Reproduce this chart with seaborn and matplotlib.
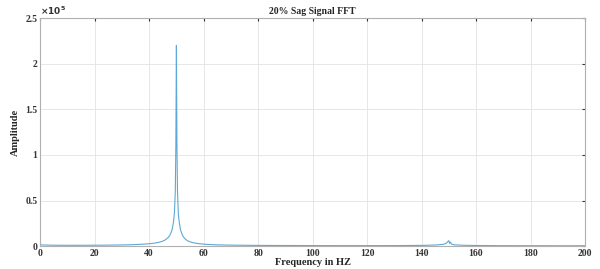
import matplotlib
matplotlib.use("Agg")
import matplotlib.pyplot as plt
import seaborn as sns
from matplotlib.ticker import FuncFormatter

# FFT of a 20% sag signal
freq = [0, 2, 5, 10, 15, 20, 25, 30, 35, 38, 40, 42, 44, 45, 46, 47, 47.5, 48,
        48.5, 49, 49.3, 49.6, 49.8, 50, 50.2, 50.4, 50.7, 51, 51.5, 52, 52.5,
        53, 54, 55, 56, 58, 60, 62, 65, 70, 80, 90, 100, 110, 120, 130, 140,
        145, 148, 149, 149.5, 150, 150.3, 150.6, 151, 152, 155, 160, 170, 180,
        190, 200]
amp = [1500, 1200, 1000, 900, 900, 1000, 1100, 1300, 1700, 2200, 2600, 3300,
       4500, 5500, 7000, 9500, 11500, 14500, 19000, 28000, 38000, 60000,
       110000, 220000, 110000, 60000, 36000, 27000, 18000, 13500, 10500, 8500,
       6000, 4700, 3800, 2800, 2200, 1800, 1400, 1100, 800, 700, 600, 550, 550,
       600, 800, 1200, 2000, 3000, 4500, 6000, 3000, 4500, 2200, 1400, 1000,
       700, 500, 450, 400, 400]

x_ticks = [0, 20, 40, 60, 80, 100, 120, 140, 160, 180, 200]
y_ticks = [0, 0.5e5, 1e5, 1.5e5, 2e5, 2.5e5]

sns.set_style("white")
plt.rcParams['font.family'] = ['Liberation Serif', 'DejaVu Serif']
plt.rcParams['font.weight'] = 'bold'

fig = plt.figure(figsize=(6, 2.69), dpi=100)
ax = fig.add_axes([0.067, 0.085, 0.908, 0.848])

sns.lineplot(x=freq, y=amp, ax=ax, color='#5fa8d3', linewidth=0.8)

ax.set_xlim(0, 200)
ax.set_ylim(0, 2.5e5)
ax.set_xticks(x_ticks)
ax.set_yticks(y_ticks)
ax.yaxis.set_major_formatter(FuncFormatter(lambda v, p: '%g' % (v / 1e5)))
ax.grid(True, color='#e3e3e3', linewidth=0.6)
ax.tick_params(labelsize=7, length=2, pad=2, direction='in', colors='#333333',
               top=True, right=True)
for lab in ax.get_xticklabels() + ax.get_yticklabels():
    lab.set_fontweight('bold')
for s in ax.spines.values():
    s.set_color('#b0b0b0')
    s.set_linewidth(0.8)

ax.text(0.0, 1.005, r'$\times\mathbf{10^5}$', transform=ax.transAxes,
        fontsize=6.5, ha='left', va='bottom', color='#333333')
ax.set_title('20% Sag Signal FFT', fontsize=7, fontweight='bold', pad=3)
ax.set_xlabel('Frequency in HZ', fontsize=7.5, fontweight='bold', labelpad=0)
ax.set_ylabel('Amplitude', fontsize=7.5, fontweight='bold', labelpad=4)

fig.savefig('out.png', dpi=100)
